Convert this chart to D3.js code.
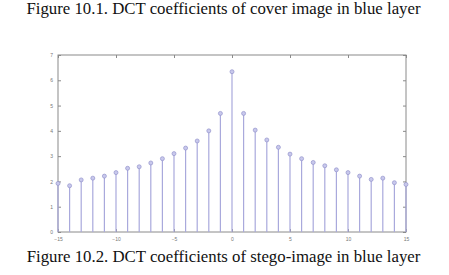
<!DOCTYPE html>
<html>
<head>
<meta charset="utf-8">
<script src="https://cdn.jsdelivr.net/npm/d3@7"></script>
<style>
  body { margin: 0; background: #fff; }
  .title { font-family: "Liberation Serif", "Times New Roman", serif; font-size: 16.8px; fill: #111; }
  .axis text { font-family: "Liberation Sans", Arial, sans-serif; font-size: 5px; fill: #777; }
  .axis path, .axis line { stroke: #8a8a8a; }
</style>
</head>
<body>
<svg id="chart"></svg>
<script>
// DCT coefficient index and magnitude
const xIndex = d3.range(-15, 16);
const coeffValues = [
  1.92, 1.83, 2.06, 2.13, 2.21, 2.35, 2.52, 2.58, 2.73, 2.90, 3.10, 3.32, 3.60, 4.00, 4.69,
  6.34,
  4.69, 4.03, 3.64, 3.35, 3.08, 2.90, 2.75, 2.62, 2.46, 2.35, 2.21, 2.08, 2.13, 1.95, 1.88
];
const xTicks = [-15, -10, -5, 0, 5, 10, 15];
const yTicks = [0, 1, 2, 3, 4, 5, 6, 7];
const topTitle = "Figure 10.1. DCT coefficients of cover image in blue layer";
const bottomTitle = "Figure 10.2. DCT coefficients of stego-image in blue layer";

const W = 449, H = 275;
const margin = { top: 55, right: 43, bottom: 43, left: 58 };
const width = W - margin.left - margin.right;
const height = H - margin.top - margin.bottom;

const svg = d3.select("#chart").attr("width", W).attr("height", H);

svg.append("text").attr("class", "title")
  .attr("x", W / 2 - 1).attr("y", 14).attr("text-anchor", "middle")
  .text(topTitle);
svg.append("text").attr("class", "title")
  .attr("x", W / 2 - 1).attr("y", 262).attr("text-anchor", "middle")
  .text(bottomTitle);

const chart = svg.append("g")
  .attr("transform", `translate(${margin.left},${margin.top})`);

const x = d3.scaleLinear().domain([-15, 15]).range([0, width]);
const y = d3.scaleLinear().domain([0, 7]).range([height, 0]);

// box with inward ticks, MATLAB style
chart.append("rect")
  .attr("width", width).attr("height", height)
  .attr("fill", "none").attr("stroke", "#8a8a8a").attr("stroke-width", 1);

chart.append("g").attr("class", "axis")
  .attr("transform", `translate(0,${height})`)
  .call(d3.axisBottom(x).tickValues(xTicks).tickFormat(d3.format("d")).tickSizeInner(-3).tickSizeOuter(0).tickPadding(5))
  .call(g => g.select(".domain").remove());
chart.append("g").attr("class", "axis")
  .call(d3.axisTop(x).tickValues(xTicks).tickSizeInner(-3).tickSizeOuter(0).tickFormat(""))
  .call(g => g.select(".domain").remove());
chart.append("g").attr("class", "axis")
  .call(d3.axisLeft(y).tickValues(yTicks).tickFormat(d3.format("d")).tickSizeInner(-3).tickSizeOuter(0).tickPadding(5))
  .call(g => g.select(".domain").remove());
chart.append("g").attr("class", "axis")
  .attr("transform", `translate(${width},0)`)
  .call(d3.axisRight(y).tickValues(yTicks).tickSizeInner(-3).tickSizeOuter(0).tickFormat(""))
  .call(g => g.select(".domain").remove());

const pts = xIndex.map((k, i) => ({ k, v: coeffValues[i] }));

chart.selectAll("line.stem")
  .data(pts)
  .join("line")
  .attr("class", "stem")
  .attr("x1", d => x(d.k)).attr("x2", d => x(d.k))
  .attr("y1", y(0)).attr("y2", d => y(d.v))
  .attr("stroke", "#a9a9dc").attr("stroke-width", 1.2);

chart.selectAll("circle.mark")
  .data(pts)
  .join("circle")
  .attr("class", "mark")
  .attr("cx", d => x(d.k)).attr("cy", d => y(d.v))
  .attr("r", 2)
  .attr("fill", "#c8c8ec").attr("stroke", "#9494cc").attr("stroke-width", 0.7);
</script>
</body>
</html>
